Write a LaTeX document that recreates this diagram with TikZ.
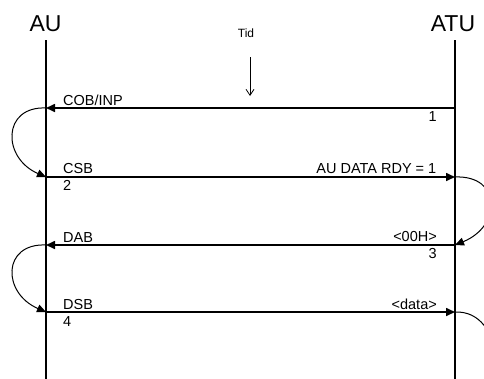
\documentclass[tikz,border=0pt]{standalone}
\usepackage{fontspec}
\setmainfont{Liberation Sans}
\usetikzlibrary{arrows.meta}
\begin{document}
\begin{tikzpicture}[x=1pt,y=-1pt,
  lifeline/.style={line width=2.3pt},
  msg/.style={line width=1.6pt,-{Triangle[length=9pt,width=8pt]}},
  loopar/.style={line width=1pt,-{Triangle[length=9pt,width=8pt]}},
  big/.style={font=\fontsize{23}{26}\selectfont,inner sep=0pt},
  lbl/.style={font=\fontsize{14.5}{16}\selectfont,inner sep=0pt},
  small/.style={font=\fontsize{12}{14}\selectfont,inner sep=0pt}]
\useasboundingbox (0,0) rectangle (484,378);
\clip (0,0) rectangle (484,378);
% lifelines
\coordinate (au0) at (46,40);
\coordinate (aub) at (46,380);
\coordinate (at0) at (455,40);
\coordinate (atb) at (455,380);
\draw[lifeline] (au0) -- (aub);
\draw[lifeline] (at0) -- (atb);
\node[big,anchor=base] (AU) at (45.5,31) {AU};
\node[big,anchor=base] (ATU) at (453,31) {ATU};
% time
\node[small,anchor=base] (tid) at (246,37) {Tid};
\coordinate (tA) at (250,57);
\coordinate (tB) at (250,96);
\draw[line width=0.8pt,-{Straight Barb[length=6pt,width=8pt]}] (tA) -- (tB);
% message points
\coordinate (a1) at (46,108);  \coordinate (t1) at (455,108);
\coordinate (a2) at (46,177);  \coordinate (t2) at (455,177);
\coordinate (a3) at (46,245);  \coordinate (t3) at (455,245);
\coordinate (a4) at (46,312);  \coordinate (t4) at (455,312);
\coordinate (t5) at (455,410);
% messages
\draw[msg] (t1) -- (a1);
\draw[msg] (a2) -- (t2);
\draw[msg] (t3) -- (a3);
\draw[msg] (a4) -- (t4);
% loops
\draw[loopar] (a1) .. controls (2,106) and (2,158) .. (a2);
\draw[loopar] (t2) .. controls (502,175) and (502,226) .. (t3);
\draw[loopar] (a3) .. controls (2,243) and (2,293) .. (a4);
\draw[line width=1pt] (t4) .. controls (505,310) and (510,400) .. (t5);
% labels
\node[lbl,anchor=base west] (l1) at (63,105) {COB/INP};
\node[lbl,anchor=north east] (n1) at (437,111) {1};
\node[lbl,anchor=base west] (l2) at (63,173.5) {CSB};
\node[lbl,anchor=north west] (n2) at (63,180) {2};
\node[lbl,anchor=base east] (r2) at (436.5,173) {AU DATA RDY = 1};
\node[lbl,anchor=base west] (l3) at (63,242) {DAB};
\node[lbl,anchor=base east] (r3) at (437,241) {<00H>};
\node[lbl,anchor=north east] (n3) at (437,248) {3};
\node[lbl,anchor=base west] (l4) at (63,309) {DSB};
\node[lbl,anchor=north west] (n4) at (63,316) {4};
\node[lbl,anchor=base east] (r4) at (437,309) {<data>};
\end{tikzpicture}
\end{document}
